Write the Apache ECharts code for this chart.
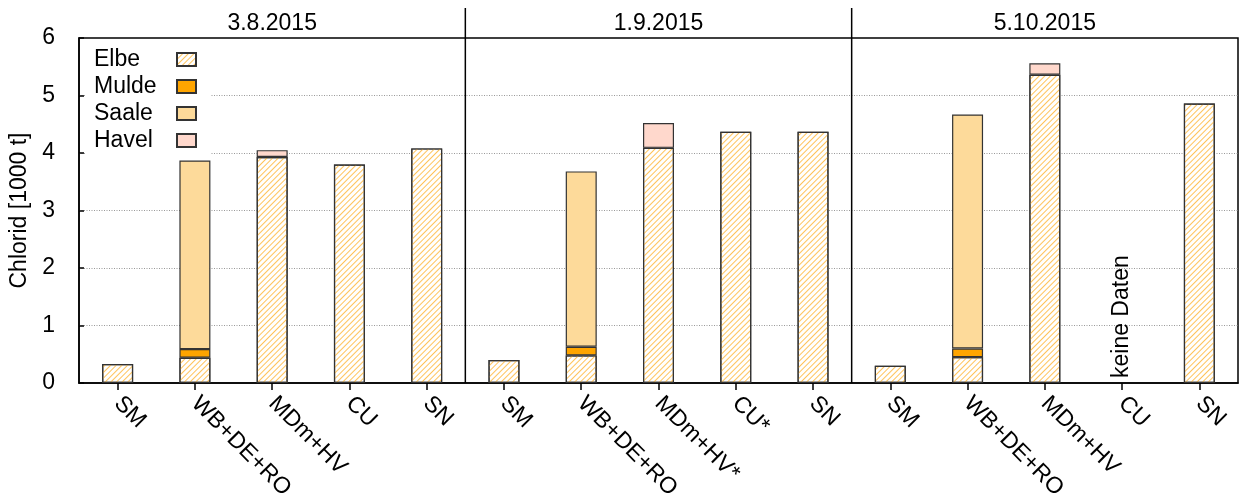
<!DOCTYPE html>
<html>
<head>
<meta charset="utf-8">
<script src="https://cdn.jsdelivr.net/npm/echarts@6/dist/echarts.min.js"></script>
<style>
  html, body { margin: 0; padding: 0; background: #fff; }
  #chart { width: 1239px; height: 499px; }
</style>
</head>
<body>
<div id="chart"></div>
<script>
// Sampling dates, one panel each
const panelDates = ['3.8.2015', '1.9.2015', '5.10.2015'];

// Measuring stations, five per sampling date
const categories = [
  'SM', 'WB+DE+RO', 'MDm+HV', 'CU', 'SN',
  'SM', 'WB+DE+RO', 'MDm+HV*', 'CU*', 'SN',
  'SM', 'WB+DE+RO', 'MDm+HV', 'CU', 'SN'
];

// Chloride load per source river, in 1000 t (null = no share)
const elbe  = [0.33, 0.44, 3.93, 3.80, 4.08, 0.40, 0.48, 4.09, 4.37, 4.37, 0.30, 0.45, 5.36, null, 4.86];
const mulde = [null, 0.15, null, null, null, null, 0.15, null, null, null, null, 0.15, null, null, null];
const saale = [null, 3.28, null, null, null, null, 3.05, null, null, null, null, 4.07, null, null, null];
const havel = [null, null, 0.12, null, null, null, null, 0.43, null, null, null, null, 0.20, null, null];

// Stations without measurements
const noDataSlots = [13];
const noDataText = 'keine Daten';

const yMin = 0, yMax = 6, yStep = 1;
const FONT = 'Liberation Sans, Arial, Helvetica, sans-serif';
const FS = 23;
const stationsPerPanel = categories.length / panelDates.length;

const barBorder = { borderColor: '#333', borderWidth: 1.2 };

function barSeries(name, data, itemStyle) {
  return {
    name, type: 'bar', stack: 'load', data, barWidth: 31,
    itemStyle: Object.assign({}, barBorder, itemStyle),
    emphasis: { disabled: true }
  };
}

const chart = echarts.init(document.getElementById('chart'), null, { renderer: 'canvas' });

chart.setOption({
  animation: false,
  backgroundColor: '#fff',
  textStyle: { fontFamily: FONT, color: '#000' },
  grid: {
    left: 79, right: 1, top: 38, bottom: 116,
    outerBoundsMode: 'none',
    containLabel: false,
    show: true, borderColor: '#000', borderWidth: 1.5, backgroundColor: 'transparent'
  },
  legend: {
    data: ['Elbe', 'Mulde', 'Saale', 'Havel'],
    orient: 'vertical', left: 86, top: 39,
    align: 'right',
    backgroundColor: '#fff',
    padding: [9, 14, 6, 8],
    itemWidth: 19, itemHeight: 13, itemGap: 4,
    icon: 'rect',
    selectedMode: false,
    formatter: '{n|{name}}',
    textStyle: {
      fontFamily: FONT, fontSize: FS, color: '#000', lineHeight: 20,
      rich: { n: { width: 78, height: 20, align: 'left', fontSize: FS, lineHeight: 20, fontFamily: FONT, color: '#000' } }
    }
  },
  xAxis: [
    {
      type: 'category',
      data: categories,
      axisLine: { show: true, lineStyle: { color: '#000', width: 1.5 } },
      axisTick: { show: true, alignWithLabel: true, length: 7, lineStyle: { color: '#000', width: 1.5 } },
      axisLabel: { rotate: -45, margin: 17, fontSize: FS, color: '#000', fontFamily: FONT, interval: 0 },
      splitLine: { show: false }
    },
    {
      type: 'category',
      position: 'top',
      data: panelDates,
      axisLine: { show: false },
      axisTick: { show: false },
      axisLabel: { margin: 3, fontSize: FS, color: '#000', fontFamily: FONT, interval: 0 },
      splitLine: { show: false }
    }
  ],
  yAxis: {
    type: 'value',
    min: yMin, max: yMax, interval: yStep,
    name: 'Chlorid [1000 t]',
    nameLocation: 'middle',
    nameGap: 37,
    nameTextStyle: { fontSize: FS, color: '#000', fontFamily: FONT },
    axisLine: { show: true, lineStyle: { color: '#000', width: 1.5 } },
    axisTick: { show: true, inside: true, length: 5, lineStyle: { color: '#000', width: 1.5 } },
    axisLabel: { margin: 24, fontSize: FS, color: '#000', fontFamily: FONT },
    splitLine: {
      show: true, showMinLine: false, showMaxLine: false,
      lineStyle: { color: '#999', type: [1, 1.5], width: 1 }
    }
  },
  series: [
    barSeries('Elbe', elbe, {
      color: '#fff',
      decal: {
        symbol: 'rect', symbolSize: 1, color: '#ffc35a',
        dashArrayX: [1, 0], dashArrayY: [1, 2.2], rotation: -Math.PI / 4
      }
    }),
    barSeries('Mulde', mulde, { color: '#ffa500' }),
    barSeries('Saale', saale, { color: '#fdda9a' }),
    barSeries('Havel', havel, { color: '#ffd8cc' }),
    {
      // vertical separators between sampling dates, reaching up into the title band
      type: 'custom',
      silent: true,
      data: panelDates.slice(1).map((d, i) => [(i + 1) * stationsPerPanel, yMin]),
      renderItem(params, api) {
        const idx = api.value(0);
        const half = api.size([1, 0])[0] / 2;
        const base = api.coord([idx, yMin]);
        const top = api.coord([idx, yMax]);
        const x = base[0] - half;
        return {
          type: 'line',
          shape: { x1: x, y1: top[1] - 30, x2: x, y2: base[1] },
          style: { stroke: '#000', lineWidth: 1.5 }
        };
      },
      z: 5
    },
    {
      // note for stations without data
      type: 'custom',
      silent: true,
      data: noDataSlots.map(i => [i, yMin]),
      renderItem(params, api) {
        const p = api.coord([api.value(0), api.value(1)]);
        return {
          type: 'text',
          x: p[0], y: p[1] - 5,
          rotation: Math.PI / 2,
          style: {
            text: noDataText, fill: '#000', font: FS + 'px ' + FONT,
            align: 'left', verticalAlign: 'middle'
          }
        };
      },
      z: 5
    }
  ]
});
</script>
</body>
</html>
